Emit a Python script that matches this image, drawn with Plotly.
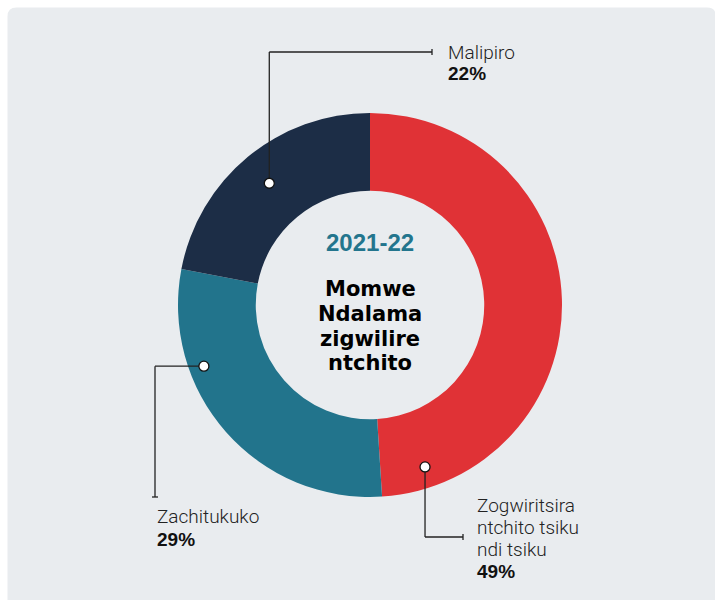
import math
import plotly.graph_objects as go

# ---- data ----
categories = ["Zogwiritsira ntchito tsiku ndi tsiku", "Zachitukuko", "Malipiro"]
label_lines = [["Zogwiritsira", "ntchito tsiku", "ndi tsiku"], ["Zachitukuko"], ["Malipiro"]]
values = [49, 29, 22]
center_year = "2021-22"
center_title = ["Momwe", "Ndalama", "zigwilire", "ntchito"]

# ---- style ----
colors = ["#e03236", "#22748c", "#1c2d46"]
W, H = 715, 600
OFF = 0
CX, CY, R = 370, 305, 192
HOLE = 0.595
BG = "#e9ecef"

anchor_frac = [0.914, 0.703, 0.5]
anchor_rad = [171, 177, 158]
leader_elbow = [("down_right", 537, 463), ("left_down", 155, 497), ("up_right", 52, 432)]
label_pos = [(475, 505), (155, 516), (446, 52)]
label_step = [22, 23, 21]

def px(x):
    return (x - OFF) / W

def py(y):
    return 1 - (y - OFF) / H

fig = go.Figure()
fig.add_trace(go.Pie(
    labels=categories, values=values, sort=False, direction="clockwise", rotation=0,
    hole=HOLE, marker=dict(colors=colors, line=dict(width=0)),
    textinfo="none", hoverinfo="label+percent", showlegend=False,
    domain=dict(x=[px(CX - R), px(CX + R)], y=[py(CY + R), py(CY - R)]),
))

shapes = []
r0 = 9
x0, y0, x1, y1 = 7.5, 7.5, 716, 620
path = (f"M {px(x0)},{py(y1)} L {px(x0)},{py(y0 + r0)} Q {px(x0)},{py(y0)} {px(x0 + r0)},{py(y0)} "
        f"L {px(x1 - r0)},{py(y0)} Q {px(x1)},{py(y0)} {px(x1)},{py(y0 + r0)} L {px(x1)},{py(y1)} Z")
shapes.append(dict(type="path", path=path, xref="paper", yref="paper",
                   fillcolor=BG, line=dict(width=0), layer="below"))

annotations = []
total = sum(values)
cum = 0
lc = "#222222"
for i, v in enumerate(values):
    start = cum / total * 360
    sweep = v / total * 360
    cum += v
    ang = math.radians(start + anchor_frac[i] * sweep)
    ax = CX + anchor_rad[i] * math.sin(ang)
    ay = CY - anchor_rad[i] * math.cos(ang)
    kind, a, b = leader_elbow[i]
    if kind == "left_down":
        pts = [(ax, ay), (a, ay), (a, b)]
        tick = ((a - 3, b), (a + 3, b))
    else:
        pts = [(ax, ay), (ax, a), (b, a)]
        tick = ((b, a - 3), (b, a + 3))
    for (xa, ya), (xb, yb) in zip(pts[:-1], pts[1:]):
        shapes.append(dict(type="line", xref="paper", yref="paper",
                           x0=px(xa), y0=py(ya), x1=px(xb), y1=py(yb),
                           line=dict(color=lc, width=1.3)))
    shapes.append(dict(type="line", xref="paper", yref="paper",
                       x0=px(tick[0][0]), y0=py(tick[0][1]), x1=px(tick[1][0]), y1=py(tick[1][1]),
                       line=dict(color=lc, width=1.3)))
    rr = 5
    shapes.append(dict(type="circle", xref="paper", yref="paper",
                       x0=px(ax - rr), y0=py(ay + rr), x1=px(ax + rr), y1=py(ay - rr),
                       fillcolor="white", line=dict(color="#111111", width=1.3)))
    lx, ly = label_pos[i]
    lines = label_lines[i]
    st = label_step[i]
    for k, t in enumerate(lines):
        annotations.append(dict(x=px(lx), y=py(ly + k * st), xref="paper", yref="paper",
                                text=t, showarrow=False, xanchor="left", yanchor="middle",
                                font=dict(family="Roboto", size=19, color="#222222", weight=300)))
    annotations.append(dict(x=px(lx), y=py(ly + len(lines) * st), xref="paper", yref="paper",
                            text=f"<b>{v}%</b>", showarrow=False, xanchor="left", yanchor="middle",
                            font=dict(family="Liberation Sans", size=19, color="#111111")))

annotations.append(dict(x=px(CX), y=py(242), xref="paper", yref="paper",
                        text=f"<b>{center_year}</b>", showarrow=False, xanchor="center", yanchor="middle",
                        font=dict(family="Liberation Sans", size=24, color="#23758d")))
for k, t in enumerate(center_title):
    annotations.append(dict(x=px(CX), y=py(289 + k * 24.8), xref="paper", yref="paper",
                            text=f"<b>{t}</b>", showarrow=False, xanchor="center", yanchor="middle",
                            font=dict(family="DejaVu Sans", size=21, color="#000000")))

fig.update_layout(width=W, height=H, margin=dict(l=0, r=0, t=0, b=0),
                  paper_bgcolor="white", plot_bgcolor="white",
                  shapes=shapes, annotations=annotations)
fig.write_html("out.html", config={"displayModeBar": False},
               post_script="document.body.style.margin='0px';")
